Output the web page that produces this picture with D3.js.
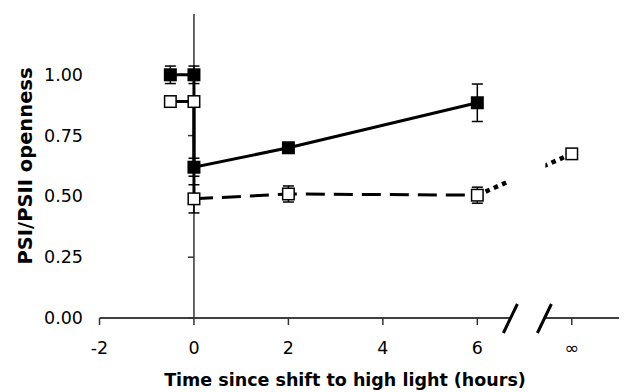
<!DOCTYPE html>
<html>
<head>
<meta charset="utf-8">
<script src="https://cdn.jsdelivr.net/npm/d3@7"></script>
<style>
  html, body { margin: 0; padding: 0; background: #fff; }
  svg { display: block; font-family: "DejaVu Sans", Verdana, sans-serif; }
</style>
</head>
<body>
<svg id="chart" width="628" height="392"></svg>
<script>
// x position used for the "infinity" tick
var INF = 8;

var xTickValues = [-2, 0, 2, 4, 6, INF];
var xTickLabels = ["-2", "0", "2", "4", "6", "\u221e"];
var yTickValues = [0, 0.25, 0.5, 0.75, 1.0];

// filled squares
var filledX = [-0.5, 0, 0, 2, 6];
var filledY = [1.0, 1.0, 0.62, 0.70, 0.885];
var filledErr = [0.036, 0.036, 0.037, 0.015, 0.077];

// open squares
var openX = [-0.5, 0, 0, 2, 6, INF];
var openY = [0.89, 0.89, 0.49, 0.51, 0.505, 0.675];
var openErr = [0.0, 0.0, 0.058, 0.033, 0.033, 0.0];

// axis break (in x units)
var breakAt = [6.7, 7.42];

var svg = d3.select("#chart");
var x = d3.scaleLinear().domain([-2, 9]).range([99.5, 619]);
var y = d3.scaleLinear().domain([0, 1.25]).range([318, 14]);

var pts = function(xs, ys) {
  return xs.map(function(v, i) { return { x: v, y: ys[i] }; });
};
var filled = pts(filledX, filledY);
var open = pts(openX, openY);
var line = d3.line()
  .x(function(d) { return x(d.x); })
  .y(function(d) { return y(d.y); });

// clip that hides the axis break gap
var defs = svg.append("defs");
var clip = defs.append("clipPath").attr("id", "gap");
clip.append("rect").attr("x", 0).attr("y", 0)
  .attr("width", x(breakAt[0]) - 2).attr("height", 392);
clip.append("rect").attr("x", x(breakAt[1]) + 1).attr("y", 0)
  .attr("width", 628).attr("height", 392);

// x axis
var axes = svg.append("g");
axes.append("line")
  .attr("x1", x(-2)).attr("x2", x(breakAt[0]))
  .attr("y1", y(0)).attr("y2", y(0))
  .attr("stroke", "#000").attr("stroke-width", 1.5);
axes.append("line")
  .attr("x1", x(breakAt[1])).attr("x2", x(9))
  .attr("y1", y(0)).attr("y2", y(0))
  .attr("stroke", "#000").attr("stroke-width", 1.5);
axes.selectAll(".xtick").data(xTickValues).enter().append("line")
  .attr("class", "xtick")
  .attr("x1", function(d) { return x(d); }).attr("x2", function(d) { return x(d); })
  .attr("y1", y(0)).attr("y2", y(0) + 7)
  .attr("stroke", "#333").attr("stroke-width", 1.5);
axes.selectAll(".slash").data(breakAt).enter().append("line")
  .attr("class", "slash")
  .attr("x1", function(d) { return x(d) - 7; }).attr("y1", y(0) + 15)
  .attr("x2", function(d) { return x(d) + 7; }).attr("y2", y(0) - 14)
  .attr("stroke", "#000").attr("stroke-width", 3);
axes.selectAll(".xlabel").data(xTickValues).enter().append("text")
  .attr("class", "xlabel")
  .attr("x", function(d) { return x(d); }).attr("y", 354)
  .attr("text-anchor", "middle").attr("font-size", 17.5).attr("fill", "#000")
  .text(function(d, i) { return xTickLabels[i]; });

// y axis crosses at x = 0
axes.append("line")
  .attr("x1", x(0)).attr("x2", x(0))
  .attr("y1", y(1.25)).attr("y2", y(0))
  .attr("stroke", "#333").attr("stroke-width", 1.5);
axes.selectAll(".ytick").data(yTickValues).enter().append("line")
  .attr("class", "ytick")
  .attr("x1", x(0) - 6).attr("x2", x(0))
  .attr("y1", function(d) { return y(d); }).attr("y2", function(d) { return y(d); })
  .attr("stroke", "#333").attr("stroke-width", 1.5);
axes.selectAll(".ylabel").data(yTickValues).enter().append("text")
  .attr("class", "ylabel")
  .attr("x", 83).attr("y", function(d) { return y(d) + 6; })
  .attr("text-anchor", "end").attr("font-size", 17.5).attr("fill", "#000")
  .text(function(d) { return d3.format(".2f")(d); });

// axis titles
svg.append("text")
  .attr("x", 345).attr("y", 386)
  .attr("text-anchor", "middle").attr("font-size", 17.5).attr("font-weight", "bold")
  .text("Time since shift to high light (hours)");
svg.append("text")
  .attr("transform", "translate(32,166) rotate(-90)")
  .attr("text-anchor", "middle").attr("font-size", 19.5).attr("font-weight", "bold")
  .text("PSI/PSII openness");

// lines
var lines = svg.append("g").attr("fill", "none").attr("stroke", "#000");
lines.append("path")
  .attr("d", line(filled))
  .attr("stroke-width", 3);
lines.append("path")
  .attr("d", line(open.slice(0, 3)))
  .attr("stroke-width", 3);
lines.append("path")
  .attr("d", line(open.slice(2, 5)))
  .attr("stroke-width", 3).attr("stroke-dasharray", "19,9");
lines.append("path")
  .attr("d", line(open.slice(4, 6)))
  .attr("clip-path", "url(#gap)")
  .attr("stroke-width", 4.5).attr("stroke-dasharray", "4.5,4.5");

// error bars
var errorBars = function(data, errs) {
  var g = svg.append("g").attr("stroke", "#000").attr("stroke-width", 1.5);
  data.forEach(function(d, i) {
    var e = errs[i];
    if (!e) return;
    var cx = x(d.x);
    g.append("line").attr("x1", cx).attr("x2", cx)
      .attr("y1", y(d.y - e)).attr("y2", y(d.y + e));
    [d.y - e, d.y + e].forEach(function(v) {
      g.append("line").attr("x1", cx - 5.5).attr("x2", cx + 5.5)
        .attr("y1", y(v)).attr("y2", y(v));
    });
  });
};
errorBars(filled, filledErr);
errorBars(open, openErr);

// markers
var size = 13;
svg.append("g").selectAll("rect").data(filled).enter().append("rect")
  .attr("x", function(d) { return x(d.x) - size / 2; })
  .attr("y", function(d) { return y(d.y) - size / 2; })
  .attr("width", size).attr("height", size)
  .attr("fill", "#000");
svg.append("g").selectAll("rect").data(open).enter().append("rect")
  .attr("x", function(d) { return x(d.x) - (size - 1.5) / 2; })
  .attr("y", function(d) { return y(d.y) - (size - 1.5) / 2; })
  .attr("width", size - 1.5).attr("height", size - 1.5)
  .attr("fill", "#fff").attr("stroke", "#000").attr("stroke-width", 1.5);
</script>
</body>
</html>
